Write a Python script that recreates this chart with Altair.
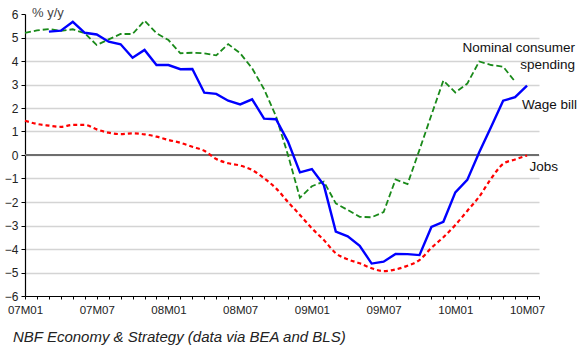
import altair as alt
import pandas as pd

# ---- data (month index 0 = 07M01) ----
tick_labels = ["07M01", "07M07", "08M01", "08M07", "09M01", "09M07", "10M01", "10M07"]

spending = [5.2, 5.3, 5.36, 5.28, 5.35, 5.18, 4.68, 4.92, 5.15, 5.15,
            5.72, 5.18, 4.89, 4.33, 4.35, 4.33, 4.24, 4.72, 4.33, 3.69,
            2.8, 1.65, 0.0, -1.82, -1.33, -1.13, -2.06, -2.34, -2.63, -2.65,
            -2.43, -1.04, -1.24, 0.22, 1.7, 3.17, 2.66, 3.04, 3.98, 3.83,
            3.76, 3.12]

wage_bill = [None, None, 5.25, 5.29, 5.67, 5.2, 5.13, 4.82, 4.71, 4.14,
             4.47, 3.83, 3.83, 3.65, 3.66, 2.65, 2.6, 2.31, 2.15, 2.37,
             1.55, 1.52, 0.57, -0.74, -0.6, -1.28, -3.26, -3.46, -3.86, -4.62,
             -4.54, -4.21, -4.22, -4.26, -3.06, -2.84, -1.59, -1.06, 0.12, 1.2,
             2.31, 2.46, 2.95]

jobs = [1.46, 1.32, 1.25, 1.2, 1.28, 1.28, 1.09, 0.95, 0.89, 0.92,
        0.88, 0.78, 0.64, 0.52, 0.35, 0.18, -0.17, -0.35, -0.45, -0.64,
        -0.99, -1.42, -2.0, -2.55, -3.12, -3.62, -4.18, -4.44, -4.61, -4.82,
        -4.94, -4.87, -4.71, -4.47, -3.95, -3.5, -2.98, -2.38, -1.77, -1.0,
        -0.38, -0.19, -0.02]


def frame(values):
    return pd.DataFrame([{"m": i, "v": v} for i, v in enumerate(values) if v is not None])


df_s = frame(spending)
df_w = frame(wage_bill)
df_j = frame(jobs)

label_array = "[" + ",".join("'" + t + "'" for t in tick_labels) + "]"

x_axis = alt.Axis(
    title=None,
    values=list(range(0, 44)),
    labelExpr=f"datum.value % 6 == 0 ? {label_array}[datum.value / 6] : ''",
    tickSize=3,
    tickColor="black",
    domainColor="black",
    domainWidth=1.2,
    labelFont="Liberation Sans",
    labelFontSize=11.5,
    labelColor="#222222",
    labelPadding=5,
    grid=False,
    labelFlush=False,
    labelOverlap=False,
)

y_axis = alt.Axis(
    title=None,
    values=list(range(-6, 7)),
    tickSize=4,
    tickColor="black",
    domainColor="black",
    domainWidth=1.2,
    labelFont="Liberation Sans",
    labelFontSize=12,
    labelColor="#222222",
    labelPadding=3,
    labelOverlap=False,
    grid=True,
    gridColor={"condition": {"test": "datum.value == 6 || datum.value == -6", "value": "transparent"},
               "value": "#d4d4d4"},
    gridWidth=1.5,
)

x_scale = alt.Scale(domain=[0, 43], nice=False, zero=False)
y_scale = alt.Scale(domain=[-6, 6], nice=False)


def xe():
    return alt.X("m:Q", scale=x_scale, axis=x_axis)


def ye():
    return alt.Y("v:Q", scale=y_scale, axis=y_axis)


zero = alt.Chart(pd.DataFrame({"v": [0]})).mark_rule(color="#6e6e6e", strokeWidth=2).encode(y=ye())

line_s = alt.Chart(df_s).mark_line(color="#1a8a1a", strokeWidth=1.8, strokeDash=[6, 3]).encode(
    x=xe(), y=ye()
)
line_w = alt.Chart(df_w).mark_line(color="#0000ff", strokeWidth=2.4).encode(x=xe(), y=ye())
line_j = alt.Chart(df_j).mark_line(color="#ff0000", strokeWidth=2.2, strokeDash=[4, 3],
                                   interpolate="monotone").encode(x=xe(), y=ye())

label_font = "Liberation Sans"


def note(text, px, py, align="right", size=13.5, color="#111111", font=label_font, style="normal"):
    return alt.Chart(pd.DataFrame({"t": [text]})).mark_text(
        align=align, baseline="middle", font=font, fontSize=size, color=color, fontStyle=style
    ).encode(text="t:N", x=alt.value(px - 25), y=alt.value(py - 14))


notes = [
    note("Nominal consumer", 575, 48),
    note("spending", 575, 65),
    note("Wage bill", 577, 105),
    note("Jobs", 558, 167),
    note("% y/y", 32, 13, align="left", size=13, color="#444444"),
    note("NBF Economy & Strategy (data via BEA and BLS)", 13, 337, align="left", size=15,
         color="#222222", style="italic"),
]

chart = alt.layer(zero, line_s, line_w, line_j, *notes).properties(
    width=514,
    height=282,
    autosize=alt.AutoSizeParams(type="none"),
    padding={"left": 25, "top": 14, "right": 39, "bottom": 52},
    background="white",
).configure_view(stroke=None)

chart.save("out.html", embed_options={"renderer": "svg", "actions": False})
